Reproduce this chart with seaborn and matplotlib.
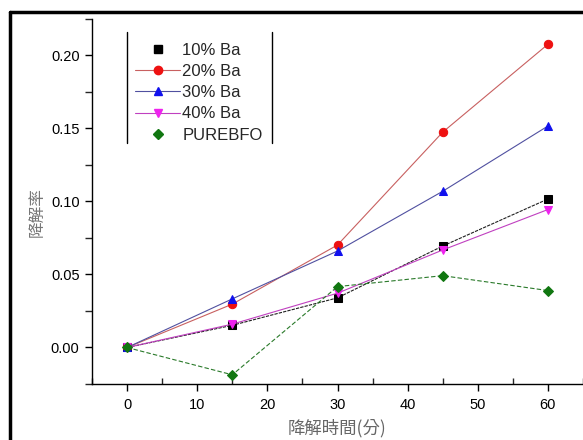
import numpy as np
import pandas as pd
import matplotlib
matplotlib.use("Agg")
import matplotlib.pyplot as plt
from matplotlib.lines import Line2D
from matplotlib.ticker import MultipleLocator, FormatStrFormatter
import seaborn as sns

# Data
times = [0, 15, 30, 45, 60]
ba10 = [0.0, 0.0152, 0.0340, 0.0695, 0.1017]
ba20 = [0.0, 0.0297, 0.0702, 0.1475, 0.2077]
ba30 = [0.0, 0.0333, 0.0661, 0.1070, 0.1517]
ba40 = [0.0, 0.0160, 0.0372, 0.0668, 0.0945]
pure = [0.0, -0.0187, 0.0417, 0.0492, 0.0390]
labels = ["10% Ba", "20% Ba", "30% Ba", "40% Ba", "PUREBFO"]

df = pd.DataFrame({
    "time": times * 5,
    "rate": ba10 + ba20 + ba30 + ba40 + pure,
    "sample": [lab for lab in labels for _ in times],
})

sns.set_style("ticks")
plt.rcParams['font.family'] = ['Liberation Sans', 'Noto Sans CJK TC', 'DejaVu Sans']

# style per series: line colour, marker colour, marker, line style
styles = {
    "10% Ba": ("#202020", "black", "s", (0, (3, 1))),
    "20% Ba": ("#c86060", "#ee1111", "o", "-"),
    "30% Ba": ("#5050a0", "#1010ee", "^", "-"),
    "40% Ba": ("#c040c0", "#ee22ee", "v", "-"),
    "PUREBFO": ("#2a7a2a", "#117711", "D", (0, (4, 2))),
}

fig = plt.figure(figsize=(5.83, 4.40), dpi=100)
ax = fig.add_axes([92 / 583, 1 - 384 / 440, 1 - 92 / 583, (384 - 19) / 440])

for lab in labels:
    lc, mc, mk, ls = styles[lab]
    sub = df[df["sample"] == lab]
    sns.lineplot(data=sub, x="time", y="rate", ax=ax, color=lc,
                 linewidth=0.8, linestyle=ls, marker=mk,
                 markerfacecolor=mc, markeredgecolor=mc,
                 markersize=6 if mk != "D" else 5.5, legend=False)

ax.set_xlim(-5, 65)
ax.set_ylim(-0.025, 0.225)
ax.xaxis.set_major_locator(MultipleLocator(10))
ax.xaxis.set_minor_locator(MultipleLocator(5))
ax.yaxis.set_major_locator(MultipleLocator(0.05))
ax.yaxis.set_minor_locator(MultipleLocator(0.025))
ax.yaxis.set_major_formatter(FormatStrFormatter('%.2f'))
ax.tick_params(axis="both", which="major", direction="out", length=5,
               width=1, labelsize=10.5, colors="black")
ax.tick_params(axis="x", which="minor", direction="in", length=4, width=1)
ax.tick_params(axis="y", which="minor", direction="out", length=5, width=1)
ax.tick_params(axis="x", pad=5)
ax.tick_params(axis="y", pad=4)

for s in ["top", "right"]:
    ax.spines[s].set_visible(False)
for s in ["left", "bottom"]:
    ax.spines[s].set_linewidth(1)
    ax.spines[s].set_color("black")

ax.set_xlabel("降解時間(分)", fontsize=12.5, color="#666666",
              family=['Noto Sans CJK TC', 'DejaVu Sans'])
ax.set_ylabel("降解率", fontsize=12, color="#777777",
              family=['Noto Sans CJK TC', 'DejaVu Sans'])
ax.xaxis.set_label_coords(0.5, -(419 - 384) / 365)
ax.yaxis.set_label_coords(-(92 - 46) / 491, 1 - (212 - 19) / 365)

# legend
handles = []
for lab in labels:
    lc, mc, mk, ls = styles[lab]
    show_line = lab not in ("10% Ba", "PUREBFO")
    handles.append(Line2D([], [], color=lc, linewidth=0.8,
                          linestyle="-" if show_line else "none",
                          marker=mk, markerfacecolor=mc, markeredgecolor=mc,
                          markersize=6 if mk != "D" else 5.5))
ax.legend(handles, labels, loc="upper left",
          bbox_to_anchor=((127 - 92) / 491, 1 - (35 - 19) / 365),
          frameon=False, fontsize=12, handlelength=2.7, handletextpad=0.15,
          labelspacing=0.37, borderpad=0.48, borderaxespad=0)

# legend side bars
for xp in (127, 272):
    fig.add_artist(Line2D([xp / 583, xp / 583], [1 - 32 / 440, 1 - 143 / 440],
                          color="black", linewidth=1))

# screenshot frame
fig.add_artist(Line2D([10 / 583, 1], [1 - 12 / 440, 1 - 12 / 440],
                      color="black", linewidth=2.5))
fig.add_artist(Line2D([10 / 583, 10 / 583], [0, 1 - 12 / 440],
                      color="black", linewidth=2.5))

fig.savefig("out.png", dpi=100)
